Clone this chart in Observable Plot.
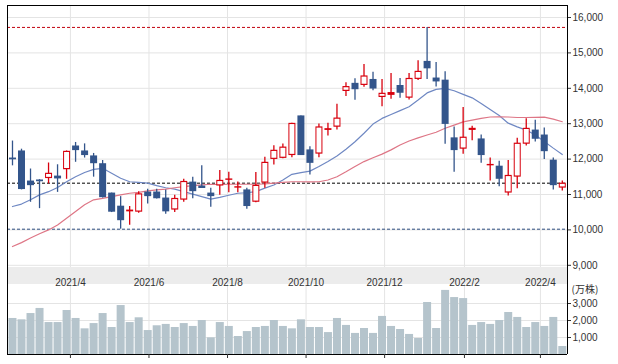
<!DOCTYPE html>
<html>
<head>
<meta charset="utf-8">
<script src="https://cdn.jsdelivr.net/npm/d3@7"></script>
<script src="https://cdn.jsdelivr.net/npm/@observablehq/plot@0.6"></script>
<style>
  html, body { margin: 0; padding: 0; background: #fff; }
  #chart { position: relative; width: 618px; height: 364px; overflow: hidden; font-family: "Liberation Sans", Arial, sans-serif; }
  #chart svg { position: absolute; left: 0; }
  #band { position: absolute; left: 7px; top: 267px; width: 561px; height: 17px; box-sizing: border-box;
          background: #ececec; border-left: 1px solid #000; border-right: 1px solid #000; }
</style>
</head>
<body>
<div id="chart"><div id="band"></div></div>
<script>
// ---- data (weekly candles, yen) ----
const firstWeek = "2021-02-15";
const lastWeek = "2022-04-18";
const open  = [12030,12230,11380,11410,11450,11520,11700,12370,12230,12090,11870,11040,10670,10510,10500,11070,11070,10900,10560,10840,
               11350,11240,11040,11240,11400,11180,11130,10780,11320,11990,12020,12100,13220,12260,12140,12810,12900,13910,14140,14080,
               14250,13740,13800,14080,13720,14250,14760,14290,14230,12600,12280,12810,12570,11810,11800,11040,11490,12420,12820,12680,
               11970,11180];
const high  = [12510,12280,11720,11420,11890,11840,12230,12470,12430,12160,11960,11040,10940,10660,11080,11150,11150,11130,10980,11430,
               11490,11810,11180,11680,11630,11350,11180,11620,12050,12380,12430,13010,13220,12350,12990,13010,13550,14160,14270,14670,
               14450,14250,14420,14280,14420,14780,15720,14730,14470,12910,13460,12930,12680,12030,11940,11960,12590,13140,13100,12880,
               12030,11380];
const low   = [11810,11130,10780,10600,11300,11060,11430,11910,12030,11490,10900,10490,10020,10130,10470,10730,10870,10440,10490,10780,
               10880,11170,10640,10980,11050,11050,10580,10770,11180,11830,12010,12040,12100,11550,12040,12650,12820,13770,13660,14030,
               13930,13480,13690,13720,13670,14220,14250,14040,12420,11630,12140,12520,11880,11380,11220,10960,11160,12370,12480,11990,
               11130,11100];
const close = [11980,11140,11250,11360,11600,11440,12220,12240,12100,11870,10910,10500,10260,10560,11020,10940,10880,10510,10890,11370,
               11080,11170,10940,11400,11440,11220,10660,11260,11910,12250,12340,13010,12100,11880,12910,12860,13160,14050,13960,14350,
               13980,13860,13880,13860,14280,14480,14550,14180,12980,12240,12620,12870,12100,11850,11430,11540,12450,12870,12560,12210,
               11250,11320];
// 13-week and 26-week moving averages as drawn
const ma13  = [10660,10730,10850,10990,11080,11200,11360,11500,11620,11710,11740,11600,11460,11360,11345,11320,11250,11190,11150,11080,
               11010,10940,10870,10920,10980,11035,11050,11080,11180,11270,11410,11570,11620,11660,11790,11930,12090,12280,12490,12730,
               12990,13150,13260,13370,13480,13670,13870,13970,14000,13930,13830,13730,13570,13400,13230,13015,12910,12820,12680,12500,
               12310,12130];
const ma26  = [9530,9640,9770,9890,10000,10140,10330,10520,10710,10850,10890,10940,10990,11035,11060,11100,11130,11150,11190,11220,
               11250,11270,11290,11280,11290,11290,11290,11290,11300,11320,11345,11360,11360,11355,11360,11410,11500,11640,11790,11930,
               12040,12140,12260,12400,12510,12600,12680,12760,12870,12960,13050,13100,13150,13190,13195,13190,13175,13175,13180,13185,
               13130,13055];
// volume (万株)
const volume = [2120,2040,2410,2710,1880,1880,2590,2120,1510,1820,2410,1590,2880,1880,2160,1410,1690,1770,1590,1820,
                1650,2000,980,1880,1650,1060,1350,1590,1650,2000,1650,1510,2040,1590,1590,1290,2120,1710,1240,1530,
                1240,2240,1650,1470,1180,940,3060,1530,3770,3350,3290,1710,1880,1770,2000,2470,2180,1590,1880,1650,
                2180,470];
const high52 = 15720, low52 = 10020, lastPrice = 11320;
const priceTicks = [9000,10000,11000,12000,13000,14000,15000,16000];
const volumeTicks = [1000,2000,3000];
const monthTicks = ["2021-04-01","2021-06-01","2021-08-01","2021-10-01","2021-12-01","2022-02-01","2022-04-01"];
const volumeUnit = "(万株)";

// ---- build table ----
const dates = d3.utcMonday.range(new Date(firstWeek), d3.utcDay.offset(new Date(lastWeek), 1));
const rows = dates.map((date, i) => ({
  date, open: open[i], high: high[i], low: low[i], close: close[i],
  ma13: ma13[i], ma26: ma26[i], volume: volume[i], up: close[i] >= open[i]
}));
const upRows = rows.filter(d => d.up);
const downRows = rows.filter(d => !d.up);
const months = monthTicks.map(s => new Date(s));
const fmtMonth = d => `${d.getUTCFullYear()}/${d.getUTCMonth() + 1}`;

const xDomain = [d3.utcHour.offset(new Date(firstWeek), -93), d3.utcHour.offset(new Date(lastWeek), 97)];
const yDomain = [8938, 16339];
const RED = "#d8000d", BLUE = "#33558b", GRID = "#e4e4e4";
const font = {fontFamily: "'Liberation Sans', Arial, sans-serif", fontSize: "10px", color: "#333", background: "transparent"};

const price = Plot.plot({
  width: 618, height: 272,
  marginLeft: 7, marginRight: 51, marginTop: 5, marginBottom: 5,
  x: {type: "utc", domain: xDomain, axis: null},
  y: {domain: yDomain, axis: null},
  style: font,
  marks: [
    Plot.gridY(priceTicks, {stroke: GRID, strokeOpacity: 1}),
    Plot.gridX(months, {stroke: GRID, strokeOpacity: 1}),
    Plot.ruleY([high52], {stroke: "#c0000c", strokeDasharray: "3,2"}),
    Plot.ruleY([low52], {stroke: "#2b4a7d", strokeDasharray: "3,2"}),
    Plot.ruleY([lastPrice], {stroke: "#000", strokeDasharray: "3,2"}),
    Plot.line(rows, {x: "date", y: "ma13", stroke: "#6f88c3", strokeWidth: 1.2}),
    Plot.line(rows, {x: "date", y: "ma26", stroke: "#de7686", strokeWidth: 1.2}),
    Plot.ruleX(downRows, {x: "date", y1: "low", y2: "high", stroke: BLUE, strokeWidth: 1.3}),
    Plot.ruleX(upRows, {x: "date", y1: "low", y2: "high", stroke: RED, strokeWidth: 1.3}),
    Plot.ruleX(downRows, {x: "date", y1: "open", y2: "close", stroke: BLUE, strokeWidth: 7}),
    Plot.ruleX(upRows, {x: "date", y1: "close", y2: "open", stroke: RED, strokeWidth: 7}),
    Plot.ruleX(upRows.filter(d => d.close - d.open > 80), {x: "date", y1: "close", y2: "open", stroke: "#fff", strokeWidth: 5, insetTop: 1.2, insetBottom: 1.2}),
    Plot.ruleX([xDomain[0], xDomain[1]], {stroke: "#000"}),
    Plot.ruleY([yDomain[1]], {stroke: "#000"}),
    Plot.axisY({anchor: "right", label: null, ticks: priceTicks, tickSize: 3, tickPadding: 2, tickFormat: d3.format(","), fill: "#333"})
  ]
});
price.style.top = "0px";

const vol = Plot.plot({
  width: 618, height: 97,
  marginLeft: 7, marginRight: 51, marginTop: 17, marginBottom: 10,
  x: {type: "utc", domain: xDomain, axis: null},
  y: {domain: [0, 4118], axis: null},
  style: font,
  marks: [
    Plot.gridY(volumeTicks, {stroke: GRID, strokeOpacity: 1}),
    Plot.gridX(months, {stroke: GRID, strokeOpacity: 1}),
    Plot.ruleX(rows, {x: "date", y1: 0, y2: "volume", stroke: "#b5c4cc", strokeWidth: 8}),
    Plot.ruleX([xDomain[0], xDomain[1]], {stroke: "#000"}),
    Plot.ruleY([0], {stroke: "#000"}),
    Plot.axisY({anchor: "right", label: null, ticks: volumeTicks, tickSize: 3, tickPadding: 2, tickFormat: d3.format(","), fill: "#333"}),
    Plot.axisX({anchor: "bottom", label: null, ticks: months, tickSize: 4, tickFormat: () => ""}),
    Plot.text([volumeUnit], {text: d => d, frameAnchor: "top-right", dx: 4, dy: 1.5, textAnchor: "start", fill: "#333",
      fontFamily: "'Noto Sans CJK JP', sans-serif", fontSize: 10}),
    Plot.text(months, {x: d => d, text: fmtMonth, frameAnchor: "top", dy: -6, fill: "#333", fontSize: 10})
  ]
});
vol.style.top = "267px";

const chart = document.getElementById("chart");
chart.insertBefore(price, chart.firstChild);
chart.appendChild(vol);
</script>
</body>
</html>
